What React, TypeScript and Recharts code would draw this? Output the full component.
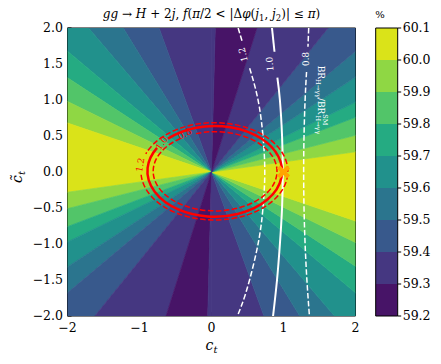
import { Curve, ReferenceArea, Scatter, ScatterChart, XAxis, YAxis } from "recharts";

const FONT = "DejaVu Serif";

// colour levels of the filled contours (%)
const levels = [59.2, 59.3, 59.4, 59.5, 59.6, 59.7, 59.8, 59.9, 60.0, 60.1];
const levelColors = ["#471467", "#453781", "#38598c", "#2b758e", "#21918c", "#25ab82", "#52c569", "#8fd744", "#dae319"];

// the fraction only depends on the direction in the (c_t, c~_t) plane.
// band edges in degrees for c_t > 0; the c_t < 0 half is the same turned by 180 deg
const bandEdges = [-90, -70, -58.5, -49.5, -40, -33.2, -26.1, -18.8, 8.0, 14.3, 20.8, 25.9, 33.4, 40, 51, 72.5, 88.5, 90];
const bandLevel = [1, 2, 3, 4, 5, 6, 7, 8, 7, 6, 5, 4, 3, 2, 1, 0, 1];

// BR(H->gamma gamma)/BR_SM contours, (c_t, c~_t)
const br12 = [
  { x: 0.37, y: 2.0 }, { x: 0.43, y: 1.8 },
  { x: 0.53, y: 1.44 }, { x: 0.6, y: 1.2 }, { x: 0.665, y: 0.9 }, { x: 0.715, y: 0.5 }, { x: 0.74, y: 0 },
  { x: 0.715, y: -0.5 }, { x: 0.665, y: -0.9 }, { x: 0.58, y: -1.3 }, { x: 0.47, y: -1.7 }, { x: 0.36, y: -2.0 },
];
const br10 = [
  { x: 0.84, y: 2.0 }, { x: 0.875, y: 1.67 },
  { x: 0.915, y: 1.31 }, { x: 0.95, y: 1.0 }, { x: 0.98, y: 0.5 }, { x: 0.99, y: 0 },
  { x: 0.98, y: -0.5 }, { x: 0.95, y: -1.0 }, { x: 0.91, y: -1.5 }, { x: 0.855, y: -2.0 },
];
const br08 = [
  { x: 1.35, y: 2.0 }, { x: 1.34, y: 1.74 },
  { x: 1.32, y: 1.39 }, { x: 1.3, y: 1.0 }, { x: 1.285, y: 0.5 }, { x: 1.28, y: 0 },
  { x: 1.285, y: -0.5 }, { x: 1.3, y: -1.0 }, { x: 1.325, y: -1.5 }, { x: 1.36, y: -2.0 },
];

// cross section ratio contours (ellipses): extents
const xsLevels = ["1.2", "1.0", "0.8"];
const xsLeft = [-0.98, -0.89, -0.81];
const xsRight = [1.06, 0.98, 0.91];
const xsTop = [0.685, 0.64, 0.56];
const xsBottom = [-0.667, -0.62, -0.54];

const smPoint = [{ x: 1.0, y: 0 }];

const xTicks = [-2, -1, 0, 1, 2];
const yTicks = [-2, -1.5, -1, -0.5, 0, 0.5, 1, 1.5, 2];

// layout of the inline labels
const brLabelSpots = [
  { x: 0.44, y: 1.63, text: "1.2", angle: -103 },
  { x: 0.81, y: 1.5, text: "1.0", angle: -95 },
  { x: 1.31, y: 1.57, text: "0.8", angle: -92 },
];
const brTitleSpot = [{ x: 1.52, y: 1.0 }];
const xsLabelSpots = [
  { x: -0.99, y: 0.1, angle: -80 },
  { x: -0.69, y: 0.4, angle: -55 },
  { x: -0.37, y: 0.53, angle: -28 },
];
const xsGaps = [[159, 184], [134, 149], [110, 124]];
const xsStyle = [
  { w: 1.5, dash: "5.5 2.4" },
  { w: 2.5, dash: undefined },
  { w: 1.5, dash: "5.5 2.4" },
];

const minus = (s: string) => s.replace("-", "\u2212");

function edgePoint(deg: number) {
  const t = (deg * Math.PI) / 180;
  const c = Math.cos(t);
  const s = Math.sin(t);
  const r = 2 / Math.max(Math.abs(c), Math.abs(s));
  return { x: r * c, y: r * s };
}

function wedge(a1: number, a2: number) {
  const pts = [{ x: 0, y: 0 }, edgePoint(a1)];
  for (const k of [-135, -45, 45, 135, 225]) {
    if (k > a1 && k < a2) pts.push(edgePoint(k));
  }
  pts.push(edgePoint(a2));
  return pts;
}

const noDot = () => <g />;

const wedgeLine = (color: string) => (p: any) => {
  const d = p.points.map((q: any, i: number) => `${i ? "L" : "M"}${q.x},${q.y}`).join("") + "Z";
  return <path d={d} fill={color} stroke={color} strokeWidth={0.7} strokeLinejoin="round" />;
};

const brLine = (gapAfter: number, width: number, dash?: string) => (p: any) => (
  <g>
    <Curve type="natural" points={p.points.slice(0, gapAfter + 1)} stroke="#fff" strokeWidth={width} strokeDasharray={dash} fill="none" />
    <Curve type="natural" points={p.points.slice(gapAfter + 1)} stroke="#fff" strokeWidth={width} strokeDasharray={dash} fill="none" />
  </g>
);

const ellipseLine = (gap: number[], width: number, dash?: string) => (p: any) => {
  const [l, r, t, b] = p.points;
  const X = (l.x + r.x) / 2;
  const RX = (r.x - l.x) / 2;
  const Y = (t.y + b.y) / 2;
  const RY = (b.y - t.y) / 2;
  const at = (deg: number) => {
    const a = (deg * Math.PI) / 180;
    return `${X + RX * Math.cos(a)},${Y - RY * Math.sin(a)}`;
  };
  const d = `M${at(gap[1])}A${RX},${RY} 0 1 0 ${at(gap[0])}`;
  return <path d={d} fill="none" stroke="#ff0000" strokeWidth={width} strokeDasharray={dash} />;
};

const rotatedText = (color: string, size: number) => (p: any) => (
  <text
    x={p.cx}
    y={p.cy}
    transform={`rotate(${p.payload.angle} ${p.cx} ${p.cy})`}
    textAnchor="middle"
    dominantBaseline="central"
    fill={color}
    fontSize={size}
    fontFamily={FONT}
  >
    {p.payload.text}
  </text>
);

const brTitle = (p: any) => (
  <text
    x={p.cx}
    y={p.cy}
    transform={`rotate(90 ${p.cx} ${p.cy})`}
    textAnchor="middle"
    dominantBaseline="central"
    fill="#fff"
    fontSize={9}
    fontFamily={FONT}
  >
    BR
    <tspan fontSize={6.5} dy={2.5}>H→γγ</tspan>
    <tspan dy={-2.5}>/BR</tspan>
    <tspan fontSize={6.5} dy={-4}>SM</tspan>
    <tspan fontSize={6.5} dx={-10} dy={6.5}>H→γγ</tspan>
  </text>
);

const smMarker = (p: any) => (
  <g transform={`translate(${p.cx} ${p.cy})`} fill="#ffa500">
    <rect x={-7} y={-2.2} width={14} height={4.4} transform="rotate(45)" />
    <rect x={-7} y={-2.2} width={14} height={4.4} transform="rotate(-45)" />
  </g>
);

const tickStyle = { fill: "#000", fontSize: 12.5, fontFamily: FONT };

export default function App() {
  const wedges: { pts: { x: number; y: number }[]; color: string }[] = [];
  for (let i = 0; i < bandLevel.length; i++) {
    for (const turn of [0, 180]) {
      wedges.push({ pts: wedge(bandEdges[i] + turn, bandEdges[i + 1] + turn), color: levelColors[bandLevel[i]] });
    }
  }

  return (
    <div style={{ position: "absolute", left: 0, top: 0, width: 441, height: 364, background: "#fff" }}>
      <div style={{ position: "absolute", left: 0, top: 0 }}>
        <ScatterChart width={441} height={364} margin={{ top: 27, right: 84.5, bottom: 18, left: 0 }}>
          <XAxis
            type="number"
            dataKey="x"
            domain={[-2, 2]}
            ticks={xTicks}
            interval={0}
            allowDataOverflow
            height={30}
            tickSize={-4}
            tickMargin={11}
            stroke="#000"
            tick={tickStyle}
            tickFormatter={(v: number) => minus(String(v))}
          />
          <XAxis xAxisId="top" type="number" dataKey="x" orientation="top" domain={[-2, 2]} ticks={xTicks} interval={0} height={1} tickSize={-4} tick={false} stroke="#000" />
          <YAxis
            type="number"
            dataKey="y"
            domain={[-2, 2]}
            ticks={yTicks}
            interval={0}
            allowDataOverflow
            width={67.5}
            tickSize={-4}
            tickMargin={8.5}
            stroke="#000"
            tick={tickStyle}
            tickFormatter={(v: number) => minus(v.toFixed(1))}
          />
          <YAxis yAxisId="right" type="number" dataKey="y" orientation="right" domain={[-2, 2]} ticks={yTicks} interval={0} width={1} tickSize={-4} tick={false} stroke="#000" />

          {wedges.map((w, i) => (
            <Scatter key={"w" + i} data={w.pts} line={wedgeLine(w.color)} shape={noDot} isAnimationActive={false} />
          ))}

          <Scatter data={br12} line={brLine(1, 1.5, "5.5 2.4")} shape={noDot} isAnimationActive={false} />
          <Scatter data={br10} line={brLine(1, 2)} shape={noDot} isAnimationActive={false} />
          <Scatter data={br08} line={brLine(1, 1.5, "5.5 2.4")} shape={noDot} isAnimationActive={false} />

          {xsLevels.map((lv, i) => {
            const cx = (xsLeft[i] + xsRight[i]) / 2;
            const cy = (xsTop[i] + xsBottom[i]) / 2;
            const pts = [
              { x: xsLeft[i], y: cy },
              { x: xsRight[i], y: cy },
              { x: cx, y: xsTop[i] },
              { x: cx, y: xsBottom[i] },
            ];
            return (
              <Scatter key={"xs" + lv} data={pts} line={ellipseLine(xsGaps[i], xsStyle[i].w, xsStyle[i].dash)} shape={noDot} isAnimationActive={false} />
            );
          })}

          <Scatter data={xsLabelSpots.map((s, i) => ({ ...s, text: xsLevels[i] }))} shape={rotatedText("#ff0000", 9)} isAnimationActive={false} />
          <Scatter data={brLabelSpots} shape={rotatedText("#fff", 9)} isAnimationActive={false} />
          <Scatter data={brTitleSpot} shape={brTitle} isAnimationActive={false} />
          <Scatter data={smPoint} shape={smMarker} isAnimationActive={false} />
          <Scatter xAxisId="top" yAxisId="right" data={smPoint} shape={noDot} isAnimationActive={false} />
        </ScatterChart>
      </div>

      <div style={{ position: "absolute", left: 370, top: 0 }}>
        <ScatterChart width={71} height={364} margin={{ top: 28, right: 0, bottom: 48, left: 5.7 }}>
          <XAxis type="number" dataKey="x" domain={[0, 1]} hide />
          <YAxis
            type="number"
            dataKey="y"
            orientation="right"
            domain={[59.2, 60.1]}
            ticks={levels}
            interval={0}
            width={43.3}
            axisLine={false}
            tickSize={3.5}
            tickMargin={1.5}
            stroke="#000"
            tick={tickStyle}
            tickFormatter={(v: number) => v.toFixed(1)}
          />
          {levelColors.map((c, i) => (
            <ReferenceArea key={c} y1={levels[i]} y2={levels[i + 1]} fill={c} fillOpacity={1} stroke="none" />
          ))}
          <ReferenceArea y1={levels[0]} y2={levels[levels.length - 1]} fill="none" stroke="#000" strokeWidth={1} />
          <Scatter data={[{ x: 0.5, y: 59.5 }]} shape={noDot} isAnimationActive={false} />
        </ScatterChart>
      </div>

      <svg width={441} height={364} style={{ position: "absolute", left: 0, top: 0, pointerEvents: "none" }} fontFamily={FONT}>
        <text x={211.5} y={18} textAnchor="middle" fontSize={12}>
          <tspan fontStyle="italic">gg</tspan> → <tspan fontStyle="italic">H</tspan> + 2<tspan fontStyle="italic">j</tspan>,{" "}
          <tspan fontStyle="italic">f</tspan>(<tspan fontStyle="italic">π</tspan>/2 &lt; |Δ<tspan fontStyle="italic">φ</tspan>(
          <tspan fontStyle="italic">j</tspan>
          <tspan fontSize={8.5} dy={2.5}>1</tspan>
          <tspan dy={-2.5}>, </tspan>
          <tspan fontStyle="italic">j</tspan>
          <tspan fontSize={8.5} dy={2.5}>2</tspan>
          <tspan dy={-2.5}>)| ≤ </tspan>
          <tspan fontStyle="italic">π</tspan>)
        </text>
        <text x={211.5} y={350} textAnchor="middle" fontSize={14}>
          <tspan fontStyle="italic">c</tspan>
          <tspan fontSize={10} fontStyle="italic" dy={3}>t</tspan>
        </text>
        <text x={0} y={0} transform="translate(22 177) rotate(-90)" textAnchor="middle" fontSize={14}>
          <tspan fontStyle="italic">c̃</tspan>
          <tspan fontSize={10} fontStyle="italic" dy={3}>t</tspan>
        </text>
        <text x={380} y={18} textAnchor="middle" fontSize={10}>%</text>
      </svg>
    </div>
  );
}
